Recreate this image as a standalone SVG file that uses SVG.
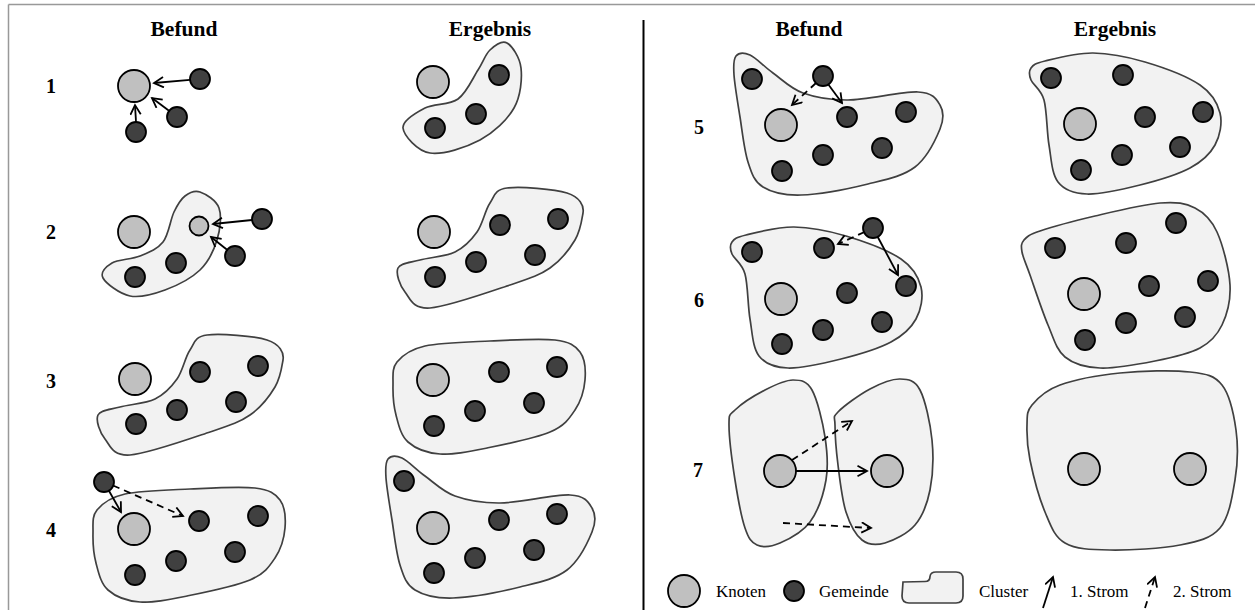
<svg xmlns="http://www.w3.org/2000/svg" width="1255" height="610" viewBox="0 0 1255 610">
<defs>
<style>
.cl{fill:#f2f2f2;stroke:#404040;stroke-width:1.7}
.k{fill:#c0c0c0;stroke:#000;stroke-width:1.8}
.g{fill:#404040;stroke:#000;stroke-width:1.8}
.ar{fill:none;stroke:#000;stroke-width:1.8;marker-end:url(#ah)}
.da{fill:none;stroke:#000;stroke-width:1.8;stroke-dasharray:7 5;marker-end:url(#ah)}
.h{font-family:"Liberation Serif","Times New Roman",serif;font-weight:bold;font-size:21.5px;text-anchor:middle;fill:#000}
.n{font-family:"Liberation Serif","Times New Roman",serif;font-weight:bold;font-size:20px;text-anchor:middle;fill:#000}
.lg{font-family:"Liberation Serif","Times New Roman",serif;font-size:17px;fill:#000}
</style>
<marker id="ah" markerWidth="14" markerHeight="14" refX="10.5" refY="6" orient="auto" markerUnits="userSpaceOnUse">
<path d="M1,0.8 L10.5,6 L1,11.2" fill="none" stroke="#000" stroke-width="1.8"/>
</marker>
<path id="s2" d="M507,188 C519.8,186.3 554.3,188.8 567,193 C579.7,197.2 584.3,205.2 583,213 C581.7,220.8 580.5,230.8 575,240 C569.5,249.2 560.8,260.5 550,268 C539.2,275.5 530,278.3 510,285 C490,291.7 447.5,306.8 430,308 C412.5,309.2 410.3,298.7 405,292 C399.7,285.3 395.5,273.3 398,268 C400.5,262.7 410.5,262.7 420,260 C429.5,257.3 445.5,256.7 455,252 C464.5,247.3 471.2,240.2 477,232 C482.8,223.8 485,210.3 490,203 C495,195.7 494.2,189.7 507,188 Z"/>
<path id="s3" d="M397,362 C402.3,355.5 409.5,349.5 425,346 C440.5,342.5 468.3,342 490,341 C511.7,340 540,338.2 555,340 C570,341.8 575,345.3 580,352 C585,358.7 585.8,370.3 585,380 C584.2,389.7 580.8,401.3 575,410 C569.2,418.7 564.7,425.7 550,432 C535.3,438.3 505.3,444.3 487,448 C468.7,451.7 453.2,455 440,454 C426.8,453 415.3,448.5 408,442 C400.7,435.5 398.5,424.5 396,415 C393.5,405.5 392.8,393.8 393,385 C393.2,376.2 391.7,368.5 397,362 Z"/>
<path id="s4" d="M388,459 C390.7,455.7 395.8,455.2 402,458 C408.2,460.8 416.2,469.7 425,476 C433.8,482.3 442.5,491.5 455,496 C467.5,500.5 480.8,503.2 500,503 C519.2,502.8 554.7,494.2 570,495 C585.3,495.8 588.3,501.8 592,508 C595.7,514.2 596.2,521.7 592,532 C587.8,542.3 579,560.8 567,570 C555,579.2 539,582.3 520,587 C501,591.7 470.5,597.5 453,598 C435.5,598.5 423.8,595.5 415,590 C406.2,584.5 403.8,576.7 400,565 C396.2,553.3 394.3,534.5 392,520 C389.7,505.5 386.7,488.2 386,478 C385.3,467.8 385.3,462.3 388,459 Z"/>
<path id="s5" d="M1031,68 C1033.3,64.8 1034.7,63.5 1045,61 C1055.3,58.5 1076.3,52.8 1093,53 C1109.7,53.2 1127.2,56.7 1145,62 C1162.8,67.3 1187.5,76.5 1200,85 C1212.5,93.5 1217.5,103 1220,113 C1222.5,123 1220,135.8 1215,145 C1210,154.2 1202.5,161.3 1190,168 C1177.5,174.7 1157.2,180.7 1140,185 C1122.8,189.3 1100.7,194.5 1087,194 C1073.3,193.5 1064.3,190.2 1058,182 C1051.7,173.8 1051.3,158.7 1049,145 C1046.7,131.3 1047,110.8 1044,100 C1041,89.2 1033.2,85.3 1031,80 C1028.8,74.7 1028.7,71.2 1031,68 Z"/>
</defs>
<rect x="0" y="0" width="1255" height="610" fill="#fff"/>
<g id="frame" fill="none" stroke="#999" stroke-width="1.5">
<line x1="8.5" y1="4.5" x2="1255" y2="4.5"/>
<line x1="8.5" y1="4.5" x2="8.5" y2="610"/>
</g>
<line id="divider" x1="643.5" y1="20" x2="643.5" y2="610" stroke="#000" stroke-width="2"/>
<g id="headers">
<text class="h" x="184" y="36">Befund</text>
<text class="h" x="490" y="36">Ergebnis</text>
<text class="h" x="809" y="36">Befund</text>
<text class="h" x="1115" y="36">Ergebnis</text>
</g>
<g id="row-labels">
<text class="n" x="51" y="93">1</text>
<text class="n" x="51" y="239">2</text>
<text class="n" x="51" y="388">3</text>
<text class="n" x="51" y="537">4</text>
<text class="n" x="699" y="134">5</text>
<text class="n" x="699" y="307">6</text>
<text class="n" x="698" y="477">7</text>
</g>
<g id="clusters">
<path id="c1e" class="cl" d="M507,43 C512.2,46 519.8,57.2 521,68 C522.2,78.8 520.8,96 514,108 C507.2,120 494,132.5 480,140 C466,147.5 442.8,155 430,153 C417.2,151 403.8,135.5 403,128 C402.2,120.5 415.8,112.8 425,108 C434.2,103.2 449.2,105.3 458,99 C466.8,92.7 472.7,78.2 478,70 C483.3,61.8 485.2,54.5 490,50 C494.8,45.5 501.8,40 507,43 Z"/>
<path id="c2b" class="cl" d="M200,192 C205.7,194 216.2,200 219,208 C221.8,216 220.2,229.7 217,240 C213.8,250.3 208.7,261.7 200,270 C191.3,278.3 176.7,285.7 165,290 C153.3,294.3 140.3,298 130,296 C119.7,294 106,283.5 103,278 C100,272.5 105.8,266.7 112,263 C118.2,259.3 131.5,259.5 140,256 C148.5,252.5 157.3,249.3 163,242 C168.7,234.7 170.3,219.7 174,212 C177.7,204.3 180.7,199.3 185,196 C189.3,192.7 194.3,190 200,192 Z"/>
<use id="c2e" href="#s2" class="cl"/>
<use id="c3b" href="#s2" class="cl" transform="translate(-300,147)"/>
<use id="c3e" href="#s3" class="cl"/>
<use id="c4b" href="#s3" class="cl" transform="translate(-300,148)"/>
<use id="c4e" href="#s4" class="cl"/>
<use id="c5b" href="#s4" class="cl" transform="translate(348,-403)"/>
<use id="c5e" href="#s5" class="cl"/>
<use id="c6b" href="#s5" class="cl" transform="translate(-299,174)"/>
<path id="c6e" class="cl" d="M1024,240 C1027,236.5 1028.2,235 1040,231 C1051.8,227 1075,220.7 1095,216 C1115,211.3 1143.3,204.3 1160,203 C1176.7,201.7 1185.5,203.2 1195,208 C1204.5,212.8 1211.2,219.2 1217,232 C1222.8,244.8 1229.2,269.5 1230,285 C1230.8,300.5 1227,314.5 1222,325 C1217,335.5 1211.2,342 1200,348 C1188.8,354 1171.7,357.7 1155,361 C1138.3,364.3 1115,368.7 1100,368 C1085,367.3 1073.7,364.2 1065,357 C1056.3,349.8 1053.8,338.7 1048,325 C1042.2,311.3 1034.3,287.2 1030,275 C1025.7,262.8 1023,257.8 1022,252 C1021,246.2 1021,243.5 1024,240 Z"/>
<path id="c7b-left" class="cl" d="M793,380 C800.8,380 806.7,380.5 812,390 C817.3,399.5 822.7,422 825,437 C827.3,452 828.5,465.8 826,480 C823.5,494.2 817.7,511.5 810,522 C802.3,532.5 788.8,539.2 780,543 C771.2,546.8 762.8,547.5 757,545 C751.2,542.5 748.7,538.8 745,528 C741.3,517.2 737.7,497.2 735,480 C732.3,462.8 729,436.7 729,425 C729,413.3 729,415.8 735,410 C741,404.2 755.3,395 765,390 C774.7,385 785.2,380 793,380 Z"/>
<path id="c7b-right" class="cl" d="M838,412 C843.8,406 859.7,394.5 870,389 C880.3,383.5 891.7,378.8 900,379 C908.3,379.2 914.7,379.8 920,390 C925.3,400.2 930.3,423.3 932,440 C933.7,456.7 932.8,475.8 930,490 C927.2,504.2 922.5,516.2 915,525 C907.5,533.8 893.8,540.5 885,543 C876.2,545.5 868.5,545.2 862,540 C855.5,534.8 850,524.5 846,512 C842,499.5 839.8,479.5 838,465 C836.2,450.5 835,433.8 835,425 C835,416.2 832.2,418 838,412 Z"/>
<path id="c7e" class="cl" d="M1032,405 C1037.5,398.3 1045.3,390.3 1060,385 C1074.7,379.7 1098.3,375.2 1120,373 C1141.7,370.8 1173,370 1190,372 C1207,374 1214.3,375.3 1222,385 C1229.7,394.7 1233.8,414.2 1236,430 C1238.2,445.8 1237.7,463.7 1235,480 C1232.3,496.3 1229.2,517.2 1220,528 C1210.8,538.8 1198.3,541.3 1180,545 C1161.7,548.7 1129.2,550.3 1110,550 C1090.8,549.7 1075.8,549.3 1065,543 C1054.2,536.7 1050.8,525.8 1045,512 C1039.2,498.2 1033,474.5 1030,460 C1027,445.5 1026.7,434.2 1027,425 C1027.3,415.8 1026.5,411.7 1032,405 Z"/>
</g>
<g id="nodes">
<g id="r1b"><circle class="k" cx="134" cy="86" r="16"/><circle class="g" cx="200" cy="79" r="10"/><circle class="g" cx="177" cy="117" r="10"/><circle class="g" cx="136" cy="132" r="10"/></g>
<g id="r1e"><circle class="k" cx="433" cy="82" r="16"/><circle class="g" cx="499" cy="75" r="10"/><circle class="g" cx="476" cy="114" r="10"/><circle class="g" cx="435" cy="128" r="10"/></g>
<g id="r2b"><circle class="k" cx="134" cy="232" r="16"/><circle class="k" cx="199" cy="226" r="9.5"/><circle class="g" cx="262" cy="219" r="10"/><circle class="g" cx="235" cy="256" r="10"/><circle class="g" cx="176" cy="263" r="10"/><circle class="g" cx="135" cy="277" r="10"/></g>
<g id="r2e"><circle class="k" cx="434" cy="232" r="16"/><circle class="g" cx="500" cy="225" r="10"/><circle class="g" cx="558" cy="219" r="10"/><circle class="g" cx="535" cy="255" r="10"/><circle class="g" cx="476" cy="262" r="10"/><circle class="g" cx="435" cy="277" r="10"/></g>
<g id="r3b"><circle class="k" cx="135" cy="379" r="16"/><circle class="g" cx="200" cy="372" r="10"/><circle class="g" cx="258" cy="366" r="10"/><circle class="g" cx="236" cy="402" r="10"/><circle class="g" cx="177" cy="410" r="10"/><circle class="g" cx="136" cy="424" r="10"/></g>
<g id="r3e"><circle class="k" cx="433" cy="380" r="16"/><circle class="g" cx="499" cy="372" r="10"/><circle class="g" cx="557" cy="367" r="10"/><circle class="g" cx="534" cy="403" r="10"/><circle class="g" cx="475" cy="411" r="10"/><circle class="g" cx="434" cy="426" r="10"/></g>
<g id="r4b"><circle class="g" cx="104" cy="482" r="10"/><circle class="k" cx="134" cy="529" r="16"/><circle class="g" cx="199" cy="521" r="10"/><circle class="g" cx="258" cy="516" r="10"/><circle class="g" cx="235" cy="552" r="10"/><circle class="g" cx="176" cy="561" r="10"/><circle class="g" cx="135" cy="575" r="10"/></g>
<g id="r4e"><circle class="g" cx="404" cy="481" r="10"/><circle class="k" cx="433" cy="528" r="16"/><circle class="g" cx="499" cy="520" r="10"/><circle class="g" cx="557" cy="514" r="10"/><circle class="g" cx="534" cy="550" r="10"/><circle class="g" cx="475" cy="558" r="10"/><circle class="g" cx="434" cy="573" r="10"/></g>
<g id="r5b"><circle class="g" cx="823" cy="76" r="10"/><circle class="g" cx="752" cy="79" r="10"/><circle class="k" cx="781" cy="125" r="16"/><circle class="g" cx="847" cy="117" r="10"/><circle class="g" cx="906" cy="112" r="10"/><circle class="g" cx="882" cy="148" r="10"/><circle class="g" cx="823" cy="155" r="10"/><circle class="g" cx="782" cy="171" r="10"/></g>
<g id="r5e"><circle class="g" cx="1051" cy="78" r="10"/><circle class="g" cx="1123" cy="75" r="10"/><circle class="k" cx="1080" cy="124" r="16"/><circle class="g" cx="1145" cy="117" r="10"/><circle class="g" cx="1203" cy="112" r="10"/><circle class="g" cx="1180" cy="147" r="10"/><circle class="g" cx="1122" cy="155" r="10"/><circle class="g" cx="1081" cy="170" r="10"/></g>
<g id="r6b"><circle class="g" cx="873" cy="228" r="10"/><circle class="g" cx="752" cy="252" r="10"/><circle class="g" cx="824" cy="248" r="10"/><circle class="k" cx="781" cy="299" r="16"/><circle class="g" cx="847" cy="293" r="10"/><circle class="g" cx="906" cy="286" r="10"/><circle class="g" cx="882" cy="322" r="10"/><circle class="g" cx="823" cy="330" r="10"/><circle class="g" cx="782" cy="344" r="10"/></g>
<g id="r6e"><circle class="g" cx="1055" cy="248" r="10"/><circle class="g" cx="1126" cy="243" r="10"/><circle class="g" cx="1176" cy="223" r="10"/><circle class="g" cx="1208" cy="281" r="10"/><circle class="k" cx="1084" cy="294" r="16"/><circle class="g" cx="1149" cy="286" r="10"/><circle class="g" cx="1185" cy="317" r="10"/><circle class="g" cx="1126" cy="323" r="10"/><circle class="g" cx="1085" cy="340" r="10"/></g>
<g id="r7b"><circle class="k" cx="780" cy="471" r="16"/><circle class="k" cx="887" cy="471" r="16"/></g>
<g id="r7e"><circle class="k" cx="1084" cy="469" r="16"/><circle class="k" cx="1190" cy="469" r="16"/></g>
</g>
<g id="connectors">
<line class="ar" x1="190" y1="79.8" x2="154" y2="83"/>
<line class="ar" x1="170" y1="111.5" x2="152" y2="98"/>
<line class="ar" x1="136" y1="122" x2="135" y2="105"/>
<line class="ar" x1="252" y1="220" x2="213" y2="224"/>
<line class="ar" x1="228" y1="250.5" x2="211" y2="237"/>
<line class="ar" x1="108.5" y1="490" x2="121" y2="512"/>
<line class="da" x1="113" y1="485.5" x2="183" y2="516"/>
<line class="da" x1="816" y1="83" x2="792" y2="105"/>
<line class="ar" x1="828" y1="84" x2="842" y2="103"/>
<line class="da" x1="864.5" y1="232" x2="838" y2="244"/>
<line class="ar" x1="877.5" y1="236.5" x2="898" y2="275"/>
<line class="ar" x1="796" y1="471" x2="867" y2="471"/>
<line class="da" x1="792" y1="460" x2="852" y2="421"/>
<line class="da" x1="783" y1="523" x2="871" y2="528"/>
</g>
<g id="legend">
<g id="lg-knoten"><circle class="k" cx="684" cy="591" r="16"/><text class="lg" x="716" y="597">Knoten</text></g>
<g id="lg-gemeinde"><circle class="g" cx="794" cy="591" r="10"/><text class="lg" x="819" y="597">Gemeinde</text></g>
<g id="lg-cluster"><path class="cl" stroke-width="2.2" d="M903,582 L925,581.5 Q930,581.5 930,576.5 Q930.5,572 936,572 L956,572 Q963,572 963,579 L963,596 Q963,603 956,603 L909,603 Q902,603 902,596 Z"/><text class="lg" x="979" y="597">Cluster</text></g>
<g id="lg-strom1"><line class="ar" x1="1043" y1="608" x2="1053" y2="577"/><text class="lg" x="1070" y="597">1. Strom</text></g>
<g id="lg-strom2"><line class="da" x1="1145" y1="608" x2="1155" y2="577" stroke-dasharray="6 4"/><text class="lg" x="1173" y="597">2. Strom</text></g>
</g>
</svg>
